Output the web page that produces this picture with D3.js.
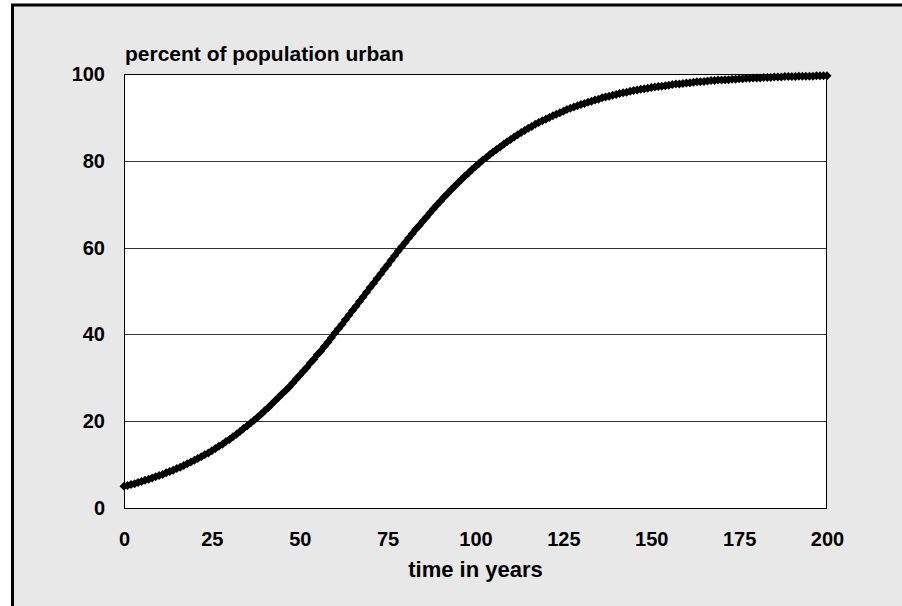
<!DOCTYPE html>
<html><head><meta charset="utf-8">
<script src="https://cdn.jsdelivr.net/npm/d3@7"></script>
<style>html,body{margin:0;padding:0;background:#fff;}svg{display:block;}</style>
</head><body>
<svg id="chart" width="902" height="606"></svg>
<script>
const years = d3.range(0, 201);
const urbanPercent = [
5.0,5.2,5.4,5.6,5.9,6.1,6.4,6.6,6.9,7.2,7.5,
7.7,8.1,8.4,8.7,9.1,9.4,9.8,10.2,10.6,11.0,
11.4,11.8,12.3,12.7,13.2,13.7,14.2,14.7,15.3,15.8,
16.4,17.0,17.6,18.3,18.9,19.6,20.2,20.9,21.6,22.4,
23.1,23.9,24.7,25.5,26.3,27.1,27.9,28.8,29.7,30.6,
31.5,32.4,33.4,34.3,35.3,36.2,37.2,38.2,39.2,40.3,
41.3,42.3,43.4,44.4,45.5,46.5,47.6,48.6,49.7,50.8,
51.8,52.9,53.9,55.0,56.0,57.1,58.1,59.2,60.2,61.2,
62.2,63.2,64.2,65.1,66.1,67.0,68.0,68.9,69.8,70.7,
71.6,72.4,73.3,74.1,74.9,75.7,76.5,77.2,78.0,78.7,
79.4,80.1,80.7,81.4,82.0,82.6,83.2,83.8,84.4,84.9,
85.5,86.0,86.5,87.0,87.5,87.9,88.4,88.8,89.2,89.6,
90.0,90.4,90.7,91.1,91.4,91.8,92.1,92.4,92.7,93.0,
93.2,93.5,93.7,94.0,94.2,94.5,94.7,94.9,95.1,95.3,
95.5,95.7,95.8,96.0,96.2,96.3,96.5,96.6,96.7,96.9,
97.0,97.1,97.2,97.3,97.4,97.6,97.7,97.7,97.8,97.9,
98.0,98.1,98.2,98.2,98.3,98.4,98.5,98.5,98.6,98.6,
98.7,98.7,98.8,98.8,98.9,98.9,99.0,99.0,99.1,99.1,
99.1,99.2,99.2,99.2,99.3,99.3,99.3,99.4,99.4,99.4,
99.4,99.5,99.5,99.5,99.5,99.5,99.6,99.6,99.6,99.6
];
const xTicks = [0, 25, 50, 75, 100, 125, 150, 175, 200];
const yTicks = [0, 20, 40, 60, 80, 100];
const yTitle = "percent of population urban";
const xTitle = "time in years";

const svg = d3.select("#chart");
const font = "'Liberation Sans', Arial, sans-serif";
const plot = {left: 124, right: 827, top: 74, bottom: 508};

// outer chart area
svg.append("rect").attr("x", 12.5).attr("y", 5).attr("width", 902).attr("height", 620)
  .attr("fill", "#e8e8e8").attr("stroke", "#000").attr("stroke-width", 3);

const x = d3.scaleLinear().domain([0, 200]).range([plot.left, plot.right]);
const y = d3.scaleLinear().domain([0, 100]).range([plot.bottom, plot.top]);

svg.append("rect").attr("x", plot.left).attr("y", plot.top)
  .attr("width", plot.right - plot.left).attr("height", plot.bottom - plot.top)
  .attr("fill", "#fff");

// gridlines
svg.append("g").selectAll("line").data(yTicks.filter(d => d > 0)).join("line")
  .attr("x1", plot.left).attr("x2", plot.right)
  .attr("y1", d => Math.round(y(d)) + 0.5).attr("y2", d => Math.round(y(d)) + 0.5)
  .attr("stroke", "#333").attr("stroke-width", 1);

// plot border
svg.append("rect").attr("x", plot.left + 0.5).attr("y", plot.top + 0.5)
  .attr("width", plot.right - plot.left - 1).attr("height", plot.bottom - plot.top)
  .attr("fill", "none").attr("stroke", "#000").attr("stroke-width", 1);

// axes
const yAxis = d3.axisLeft(y).tickValues(yTicks).tickSize(0).tickPadding(19);
const gy = svg.append("g").attr("transform", `translate(${plot.left},0)`).call(yAxis);
gy.select(".domain").remove();
gy.selectAll("text").attr("font-family", font).attr("font-weight", "bold")
  .attr("font-size", 20).attr("fill", "#000");

const xAxis = d3.axisBottom(x).tickValues(xTicks).tickSize(0).tickPadding(24);
const gx = svg.append("g").attr("transform", `translate(0,${plot.bottom})`).call(xAxis);
gx.select(".domain").remove();
gx.selectAll("text").attr("font-family", font).attr("font-weight", "bold")
  .attr("font-size", 20).attr("fill", "#000");

// series
const pts = years.map((yr, i) => [yr, urbanPercent[i]]);
svg.append("path").datum(pts)
  .attr("d", d3.line().x(d => x(d[0])).y(d => y(d[1])))
  .attr("fill", "none").attr("stroke", "#000").attr("stroke-width", 2);
const r = 4.5;
svg.append("g").selectAll("path").data(pts).join("path")
  .attr("transform", d => `translate(${x(d[0])},${y(d[1])})`)
  .attr("d", `M0,${-r}L${r},0L0,${r}L${-r},0Z`)
  .attr("fill", "#000");

// titles
svg.append("text").attr("x", 125).attr("y", 61).text(yTitle)
  .attr("font-family", font).attr("font-weight", "bold").attr("font-size", 21);
svg.append("text").attr("x", (plot.left + plot.right) / 2).attr("y", 577)
  .attr("text-anchor", "middle").text(xTitle)
  .attr("font-family", font).attr("font-weight", "bold").attr("font-size", 22);
</script>
</body></html>
